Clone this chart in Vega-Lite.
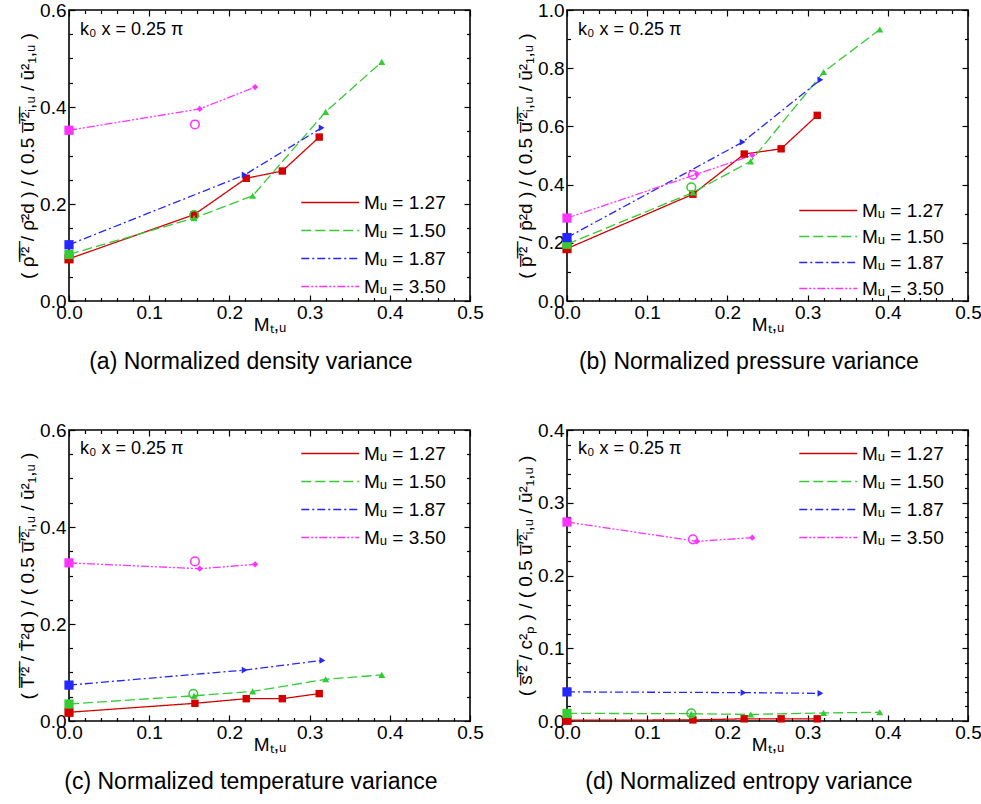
{
 "$schema": "https://vega.github.io/schema/vega-lite/v6.json",
 "background": "white",
 "padding": {"left": 17, "top": 0, "right": 2, "bottom": 2},
 "datasets": {
  "lines": [
   {"p":"a","M":"1.27","x":0,"y":0.087},{"p":"a","M":"1.27","x":0.156,"y":0.178},{"p":"a","M":"1.27","x":0.221,"y":0.253},{"p":"a","M":"1.27","x":0.266,"y":0.268},{"p":"a","M":"1.27","x":0.312,"y":0.338},
   {"p":"a","M":"1.50","x":0,"y":0.096},{"p":"a","M":"1.50","x":0.156,"y":0.171},{"p":"a","M":"1.50","x":0.229,"y":0.217},{"p":"a","M":"1.50","x":0.32,"y":0.39},{"p":"a","M":"1.50","x":0.39,"y":0.493},
   {"p":"a","M":"1.87","x":0,"y":0.116},{"p":"a","M":"1.87","x":0.219,"y":0.26},{"p":"a","M":"1.87","x":0.315,"y":0.357},
   {"p":"a","M":"3.50","x":0,"y":0.352},{"p":"a","M":"3.50","x":0.163,"y":0.396},{"p":"a","M":"3.50","x":0.232,"y":0.441},
   {"p":"b","M":"1.27","x":0,"y":0.18},{"p":"b","M":"1.27","x":0.157,"y":0.367},{"p":"b","M":"1.27","x":0.221,"y":0.505},{"p":"b","M":"1.27","x":0.267,"y":0.523},{"p":"b","M":"1.27","x":0.312,"y":0.638},
   {"p":"b","M":"1.50","x":0,"y":0.195},{"p":"b","M":"1.50","x":0.157,"y":0.373},{"p":"b","M":"1.50","x":0.229,"y":0.48},{"p":"b","M":"1.50","x":0.32,"y":0.787},{"p":"b","M":"1.50","x":0.39,"y":0.933},
   {"p":"b","M":"1.87","x":0,"y":0.218},{"p":"b","M":"1.87","x":0.219,"y":0.546},{"p":"b","M":"1.87","x":0.316,"y":0.76},
   {"p":"b","M":"3.50","x":0,"y":0.285},{"p":"b","M":"3.50","x":0.162,"y":0.436},{"p":"b","M":"3.50","x":0.231,"y":0.501},
   {"p":"c","M":"1.27","x":0,"y":0.018},{"p":"c","M":"1.27","x":0.157,"y":0.0365},{"p":"c","M":"1.27","x":0.221,"y":0.046},{"p":"c","M":"1.27","x":0.266,"y":0.046},{"p":"c","M":"1.27","x":0.312,"y":0.0565},
   {"p":"c","M":"1.50","x":0,"y":0.035},{"p":"c","M":"1.50","x":0.156,"y":0.052},{"p":"c","M":"1.50","x":0.229,"y":0.061},{"p":"c","M":"1.50","x":0.32,"y":0.086},{"p":"c","M":"1.50","x":0.39,"y":0.095},
   {"p":"c","M":"1.87","x":0,"y":0.074},{"p":"c","M":"1.87","x":0.219,"y":0.105},{"p":"c","M":"1.87","x":0.316,"y":0.125},
   {"p":"c","M":"3.50","x":0,"y":0.326},{"p":"c","M":"3.50","x":0.163,"y":0.314},{"p":"c","M":"3.50","x":0.232,"y":0.323},
   {"p":"d","M":"1.27","x":0,"y":0.001},{"p":"d","M":"1.27","x":0.157,"y":0.0015},{"p":"d","M":"1.27","x":0.221,"y":0.003},{"p":"d","M":"1.27","x":0.267,"y":0.003},{"p":"d","M":"1.27","x":0.312,"y":0.003},
   {"p":"d","M":"1.50","x":0,"y":0.0105},{"p":"d","M":"1.50","x":0.155,"y":0.01},{"p":"d","M":"1.50","x":0.229,"y":0.009},{"p":"d","M":"1.50","x":0.32,"y":0.011},{"p":"d","M":"1.50","x":0.39,"y":0.012},
   {"p":"d","M":"1.87","x":0,"y":0.04},{"p":"d","M":"1.87","x":0.22,"y":0.039},{"p":"d","M":"1.87","x":0.316,"y":0.038},
   {"p":"d","M":"3.50","x":0,"y":0.2735},{"p":"d","M":"3.50","x":0.162,"y":0.247},{"p":"d","M":"3.50","x":0.231,"y":0.252}
  ],
  "circles": [
   {"p":"a","M":"1.50","x":0.156,"y":0.177},{"p":"a","M":"3.50","x":0.157,"y":0.364},
   {"p":"b","M":"1.50","x":0.155,"y":0.391},{"p":"b","M":"3.50","x":0.157,"y":0.433},
   {"p":"c","M":"1.50","x":0.155,"y":0.056},{"p":"c","M":"3.50","x":0.157,"y":0.329},
   {"p":"d","M":"1.50","x":0.155,"y":0.0105},{"p":"d","M":"3.50","x":0.157,"y":0.2497}
  ],
  "note": [{"label": "k\u2080 x = 0.25 \u03c0"}]
 },
 "columns": 2,
 "spacing": {"column": 30, "row": 45},
 "resolve": {"legend": {"color": "independent", "strokeDash": "independent"}},
 "concat": [
  {
   "width": 401, "height": 291,
   "title": {"text": "(a) Normalized density variance"},
   "layer": [
    {
     "data": {"name": "lines"},
     "transform": [{"filter": "datum.p == 'a'"}],
     "mark": {"type": "line", "strokeWidth": 1.3},
     "encoding": {
      "x": {"field": "x", "type": "quantitative", "scale": {"domain": [0, 0.5], "nice": false}, "axis": {"orient": "bottom", "values": [0, 0.1, 0.2, 0.3, 0.4, 0.5], "ticks": false, "labelPadding": 2, "title": "M\u209c,\u1d64", "titlePadding": -7}},
      "y": {"field": "y", "type": "quantitative", "scale": {"domain": [0, 0.6], "nice": false}, "axis": {"orient": "left", "values": [0, 0.2, 0.4, 0.6], "ticks": false, "labelPadding": 3, "title": "( \u03c1\u0305\u2032\u0305\u00b2\u0305 / \u03c1\u0304\u00b2d ) / ( 0.5 u\u0305\u2032\u0305\u00b2\u0305\u1d62,\u1d64 / \u016b\u00b2\u2081,\u1d64 )", "titlePadding": 2}},
      "color": {"field": "M", "type": "nominal", "scale": {"domain": ["1.27", "1.50", "1.87", "3.50"], "range": ["#d40000", "#33cc33", "#2626ff", "#ff33ff"]}, "legend": {"orient": "none", "legendX": 230, "legendY": 183, "labelExpr": "'M\u1d64 = ' + datum.label"}},
      "strokeDash": {"field": "M", "type": "nominal", "scale": {"domain": ["1.27", "1.50", "1.87", "3.50"], "range": [[1, 0], [10, 4], [8, 3, 2, 3], [8, 2, 2, 2, 2, 2]]}, "legend": {"orient": "none", "legendX": 230, "legendY": 183, "labelExpr": "'M\u1d64 = ' + datum.label"}}
     }
    },
    {
     "data": {"name": "lines"},
     "transform": [{"filter": "datum.p == 'a' && datum.x > 0"}],
     "mark": {"type": "point", "filled": true, "opacity": 1},
     "encoding": {
      "x": {"field": "x", "type": "quantitative", "axis": {"orient": "bottom", "values": [0,0.02,0.04,0.06,0.08,0.1,0.12,0.14,0.16,0.18,0.2,0.22,0.24,0.26,0.28,0.3,0.32,0.34,0.36,0.38,0.4,0.42,0.44,0.46,0.48,0.5], "labels": false, "title": null, "tickSize": {"condition": {"test": "abs(datum.value*10 - round(datum.value*10)) < 1e-6", "value": -6}, "value": -3.5}}},
      "y": {"field": "y", "type": "quantitative", "axis": {"orient": "left", "values": [0,0.05,0.1,0.15,0.2,0.25,0.3,0.35,0.4,0.45,0.5,0.55,0.6], "labels": false, "title": null, "tickSize": {"condition": {"test": "abs(datum.value*5 - round(datum.value*5)) < 1e-6", "value": -6}, "value": -3.5}}},
      "color": {"field": "M", "type": "nominal", "legend": null},
      "shape": {"field": "M", "type": "nominal", "scale": {"domain": ["1.27", "1.50", "1.87", "3.50"], "range": ["square", "triangle-up", "triangle-right", "diamond"]}, "legend": null},
      "size": {"field": "M", "type": "nominal", "scale": {"domain": ["1.27", "1.50", "1.87", "3.50"], "range": [55, 40, 40, 50]}, "legend": null}
     }
    },
    {
     "data": {"name": "lines"},
     "transform": [{"filter": "datum.p == 'a' && datum.x == 0"}],
     "mark": {"type": "point", "filled": true, "opacity": 1, "shape": "square", "size": 85},
     "encoding": {
      "x": {"field": "x", "type": "quantitative", "axis": {"orient": "top", "values": [0,0.02,0.04,0.06,0.08,0.1,0.12,0.14,0.16,0.18,0.2,0.22,0.24,0.26,0.28,0.3,0.32,0.34,0.36,0.38,0.4,0.42,0.44,0.46,0.48,0.5], "labels": false, "title": null, "tickSize": {"condition": {"test": "abs(datum.value*10 - round(datum.value*10)) < 1e-6", "value": -6}, "value": -3.5}}},
      "y": {"field": "y", "type": "quantitative", "axis": {"orient": "right", "values": [0,0.05,0.1,0.15,0.2,0.25,0.3,0.35,0.4,0.45,0.5,0.55,0.6], "labels": false, "title": null, "tickSize": {"condition": {"test": "abs(datum.value*5 - round(datum.value*5)) < 1e-6", "value": -6}, "value": -3.5}}},
      "color": {"field": "M", "type": "nominal", "legend": null}
     }
    },
    {
     "data": {"name": "circles"},
     "transform": [{"filter": "datum.p == 'a'"}],
     "mark": {"type": "point", "filled": false, "shape": "circle", "size": 75, "strokeWidth": 1.5, "opacity": 1},
     "encoding": {
      "x": {"field": "x", "type": "quantitative", "axis": null},
      "y": {"field": "y", "type": "quantitative", "axis": null},
      "color": {"field": "M", "type": "nominal", "legend": null}
     }
    },
    {
     "data": {"name": "note"},
     "mark": {"type": "text", "align": "left", "baseline": "middle", "dx": 11, "dy": 20, "fontSize": 18, "font": "Liberation Sans"},
     "encoding": {
      "x": {"datum": 0, "type": "quantitative", "axis": null},
      "y": {"datum": 0.6, "type": "quantitative", "axis": null},
      "text": {"field": "label"}
     }
    }
   ],
   "resolve": {"axis": {"x": "independent", "y": "independent"}}
  },
  {
   "width": 401, "height": 291,
   "title": {"text": "(b) Normalized pressure variance"},
   "layer": [
    {
     "data": {"name": "lines"},
     "transform": [{"filter": "datum.p == 'b'"}],
     "mark": {"type": "line", "strokeWidth": 1.3},
     "encoding": {
      "x": {"field": "x", "type": "quantitative", "scale": {"domain": [0, 0.5], "nice": false}, "axis": {"orient": "bottom", "values": [0, 0.1, 0.2, 0.3, 0.4, 0.5], "ticks": false, "labelPadding": 2, "title": "M\u209c,\u1d64", "titlePadding": -7}},
      "y": {"field": "y", "type": "quantitative", "scale": {"domain": [0, 1], "nice": false}, "axis": {"orient": "left", "values": [0, 0.2, 0.4, 0.6, 0.8, 1], "ticks": false, "labelPadding": 3, "title": "( p\u0305\u2032\u0305\u00b2\u0305 / p\u0304\u00b2d ) / ( 0.5 u\u0305\u2032\u0305\u00b2\u0305\u1d62,\u1d64 / \u016b\u00b2\u2081,\u1d64 )", "titlePadding": 2}},
      "color": {"field": "M", "type": "nominal", "scale": {"domain": ["1.27", "1.50", "1.87", "3.50"], "range": ["#d40000", "#33cc33", "#2626ff", "#ff33ff"]}, "legend": {"orient": "none", "legendX": 230, "legendY": 191, "rowPadding": 6, "labelExpr": "'M\u1d64 = ' + datum.label"}},
      "strokeDash": {"field": "M", "type": "nominal", "scale": {"domain": ["1.27", "1.50", "1.87", "3.50"], "range": [[1, 0], [10, 4], [8, 3, 2, 3], [8, 2, 2, 2, 2, 2]]}, "legend": {"orient": "none", "legendX": 230, "legendY": 191, "rowPadding": 6, "labelExpr": "'M\u1d64 = ' + datum.label"}}
     }
    },
    {
     "data": {"name": "lines"},
     "transform": [{"filter": "datum.p == 'b' && datum.x > 0"}],
     "mark": {"type": "point", "filled": true, "opacity": 1},
     "encoding": {
      "x": {"field": "x", "type": "quantitative", "axis": {"orient": "bottom", "values": [0,0.02,0.04,0.06,0.08,0.1,0.12,0.14,0.16,0.18,0.2,0.22,0.24,0.26,0.28,0.3,0.32,0.34,0.36,0.38,0.4,0.42,0.44,0.46,0.48,0.5], "labels": false, "title": null, "tickSize": {"condition": {"test": "abs(datum.value*10 - round(datum.value*10)) < 1e-6", "value": -6}, "value": -3.5}}},
      "y": {"field": "y", "type": "quantitative", "axis": {"orient": "left", "values": [0,0.1,0.2,0.3,0.4,0.5,0.6,0.7,0.8,0.9,1], "labels": false, "title": null, "tickSize": {"condition": {"test": "abs(datum.value*5 - round(datum.value*5)) < 1e-6", "value": -6}, "value": -3.5}}},
      "color": {"field": "M", "type": "nominal", "legend": null},
      "shape": {"field": "M", "type": "nominal", "scale": {"domain": ["1.27", "1.50", "1.87", "3.50"], "range": ["square", "triangle-up", "triangle-right", "diamond"]}, "legend": null},
      "size": {"field": "M", "type": "nominal", "scale": {"domain": ["1.27", "1.50", "1.87", "3.50"], "range": [55, 40, 40, 50]}, "legend": null}
     }
    },
    {
     "data": {"name": "lines"},
     "transform": [{"filter": "datum.p == 'b' && datum.x == 0"}],
     "mark": {"type": "point", "filled": true, "opacity": 1, "shape": "square", "size": 85},
     "encoding": {
      "x": {"field": "x", "type": "quantitative", "axis": {"orient": "top", "values": [0,0.02,0.04,0.06,0.08,0.1,0.12,0.14,0.16,0.18,0.2,0.22,0.24,0.26,0.28,0.3,0.32,0.34,0.36,0.38,0.4,0.42,0.44,0.46,0.48,0.5], "labels": false, "title": null, "tickSize": {"condition": {"test": "abs(datum.value*10 - round(datum.value*10)) < 1e-6", "value": -6}, "value": -3.5}}},
      "y": {"field": "y", "type": "quantitative", "axis": {"orient": "right", "values": [0,0.1,0.2,0.3,0.4,0.5,0.6,0.7,0.8,0.9,1], "labels": false, "title": null, "tickSize": {"condition": {"test": "abs(datum.value*5 - round(datum.value*5)) < 1e-6", "value": -6}, "value": -3.5}}},
      "color": {"field": "M", "type": "nominal", "legend": null}
     }
    },
    {
     "data": {"name": "circles"},
     "transform": [{"filter": "datum.p == 'b'"}],
     "mark": {"type": "point", "filled": false, "shape": "circle", "size": 75, "strokeWidth": 1.5, "opacity": 1},
     "encoding": {
      "x": {"field": "x", "type": "quantitative", "axis": null},
      "y": {"field": "y", "type": "quantitative", "axis": null},
      "color": {"field": "M", "type": "nominal", "legend": null}
     }
    },
    {
     "data": {"name": "note"},
     "mark": {"type": "text", "align": "left", "baseline": "middle", "dx": 11, "dy": 20, "fontSize": 18, "font": "Liberation Sans"},
     "encoding": {
      "x": {"datum": 0, "type": "quantitative", "axis": null},
      "y": {"datum": 1, "type": "quantitative", "axis": null},
      "text": {"field": "label"}
     }
    }
   ],
   "resolve": {"axis": {"x": "independent", "y": "independent"}}
  },
  {
   "width": 401, "height": 291,
   "title": {"text": "(c) Normalized temperature variance"},
   "layer": [
    {
     "data": {"name": "lines"},
     "transform": [{"filter": "datum.p == 'c'"}],
     "mark": {"type": "line", "strokeWidth": 1.3},
     "encoding": {
      "x": {"field": "x", "type": "quantitative", "scale": {"domain": [0, 0.5], "nice": false}, "axis": {"orient": "bottom", "values": [0, 0.1, 0.2, 0.3, 0.4, 0.5], "ticks": false, "labelPadding": 2, "title": "M\u209c,\u1d64", "titlePadding": -7}},
      "y": {"field": "y", "type": "quantitative", "scale": {"domain": [0, 0.6], "nice": false}, "axis": {"orient": "left", "values": [0, 0.2, 0.4, 0.6], "ticks": false, "labelPadding": 3, "title": "( T\u0305\u2032\u0305\u00b2\u0305 / T\u0304\u00b2d ) / ( 0.5 u\u0305\u2032\u0305\u00b2\u0305\u1d62,\u1d64 / \u016b\u00b2\u2081,\u1d64 )", "titlePadding": 2}},
      "color": {"field": "M", "type": "nominal", "scale": {"domain": ["1.27", "1.50", "1.87", "3.50"], "range": ["#d40000", "#33cc33", "#2626ff", "#ff33ff"]}, "legend": {"orient": "none", "legendX": 230, "legendY": 14, "labelExpr": "'M\u1d64 = ' + datum.label"}},
      "strokeDash": {"field": "M", "type": "nominal", "scale": {"domain": ["1.27", "1.50", "1.87", "3.50"], "range": [[1, 0], [10, 4], [8, 3, 2, 3], [8, 2, 2, 2, 2, 2]]}, "legend": {"orient": "none", "legendX": 230, "legendY": 14, "labelExpr": "'M\u1d64 = ' + datum.label"}}
     }
    },
    {
     "data": {"name": "lines"},
     "transform": [{"filter": "datum.p == 'c' && datum.x > 0"}],
     "mark": {"type": "point", "filled": true, "opacity": 1},
     "encoding": {
      "x": {"field": "x", "type": "quantitative", "axis": {"orient": "bottom", "values": [0,0.02,0.04,0.06,0.08,0.1,0.12,0.14,0.16,0.18,0.2,0.22,0.24,0.26,0.28,0.3,0.32,0.34,0.36,0.38,0.4,0.42,0.44,0.46,0.48,0.5], "labels": false, "title": null, "tickSize": {"condition": {"test": "abs(datum.value*10 - round(datum.value*10)) < 1e-6", "value": -6}, "value": -3.5}}},
      "y": {"field": "y", "type": "quantitative", "axis": {"orient": "left", "values": [0,0.05,0.1,0.15,0.2,0.25,0.3,0.35,0.4,0.45,0.5,0.55,0.6], "labels": false, "title": null, "tickSize": {"condition": {"test": "abs(datum.value*5 - round(datum.value*5)) < 1e-6", "value": -6}, "value": -3.5}}},
      "color": {"field": "M", "type": "nominal", "legend": null},
      "shape": {"field": "M", "type": "nominal", "scale": {"domain": ["1.27", "1.50", "1.87", "3.50"], "range": ["square", "triangle-up", "triangle-right", "diamond"]}, "legend": null},
      "size": {"field": "M", "type": "nominal", "scale": {"domain": ["1.27", "1.50", "1.87", "3.50"], "range": [55, 40, 40, 50]}, "legend": null}
     }
    },
    {
     "data": {"name": "lines"},
     "transform": [{"filter": "datum.p == 'c' && datum.x == 0"}],
     "mark": {"type": "point", "filled": true, "opacity": 1, "shape": "square", "size": 85},
     "encoding": {
      "x": {"field": "x", "type": "quantitative", "axis": {"orient": "top", "values": [0,0.02,0.04,0.06,0.08,0.1,0.12,0.14,0.16,0.18,0.2,0.22,0.24,0.26,0.28,0.3,0.32,0.34,0.36,0.38,0.4,0.42,0.44,0.46,0.48,0.5], "labels": false, "title": null, "tickSize": {"condition": {"test": "abs(datum.value*10 - round(datum.value*10)) < 1e-6", "value": -6}, "value": -3.5}}},
      "y": {"field": "y", "type": "quantitative", "axis": {"orient": "right", "values": [0,0.05,0.1,0.15,0.2,0.25,0.3,0.35,0.4,0.45,0.5,0.55,0.6], "labels": false, "title": null, "tickSize": {"condition": {"test": "abs(datum.value*5 - round(datum.value*5)) < 1e-6", "value": -6}, "value": -3.5}}},
      "color": {"field": "M", "type": "nominal", "legend": null}
     }
    },
    {
     "data": {"name": "circles"},
     "transform": [{"filter": "datum.p == 'c'"}],
     "mark": {"type": "point", "filled": false, "shape": "circle", "size": 75, "strokeWidth": 1.5, "opacity": 1},
     "encoding": {
      "x": {"field": "x", "type": "quantitative", "axis": null},
      "y": {"field": "y", "type": "quantitative", "axis": null},
      "color": {"field": "M", "type": "nominal", "legend": null}
     }
    },
    {
     "data": {"name": "note"},
     "mark": {"type": "text", "align": "left", "baseline": "middle", "dx": 11, "dy": 19, "fontSize": 18, "font": "Liberation Sans"},
     "encoding": {
      "x": {"datum": 0, "type": "quantitative", "axis": null},
      "y": {"datum": 0.6, "type": "quantitative", "axis": null},
      "text": {"field": "label"}
     }
    }
   ],
   "resolve": {"axis": {"x": "independent", "y": "independent"}}
  },
  {
   "width": 401, "height": 291,
   "title": {"text": "(d) Normalized entropy variance"},
   "layer": [
    {
     "data": {"name": "lines"},
     "transform": [{"filter": "datum.p == 'd'"}],
     "mark": {"type": "line", "strokeWidth": 1.3},
     "encoding": {
      "x": {"field": "x", "type": "quantitative", "scale": {"domain": [0, 0.5], "nice": false}, "axis": {"orient": "bottom", "values": [0, 0.1, 0.2, 0.3, 0.4, 0.5], "ticks": false, "labelPadding": 2, "title": "M\u209c,\u1d64", "titlePadding": -7}},
      "y": {"field": "y", "type": "quantitative", "scale": {"domain": [0, 0.4], "nice": false}, "axis": {"orient": "left", "values": [0, 0.1, 0.2, 0.3, 0.4], "ticks": false, "labelPadding": 3, "title": "( s\u0305\u2032\u0305\u00b2\u0305 / c\u00b2\u209a ) / ( 0.5 u\u0305\u2032\u0305\u00b2\u0305\u1d62,\u1d64 / \u016b\u00b2\u2081,\u1d64 )", "titlePadding": 2}},
      "color": {"field": "M", "type": "nominal", "scale": {"domain": ["1.27", "1.50", "1.87", "3.50"], "range": ["#d40000", "#33cc33", "#2626ff", "#ff33ff"]}, "legend": {"orient": "none", "legendX": 230, "legendY": 14, "labelExpr": "'M\u1d64 = ' + datum.label"}},
      "strokeDash": {"field": "M", "type": "nominal", "scale": {"domain": ["1.27", "1.50", "1.87", "3.50"], "range": [[1, 0], [10, 4], [8, 3, 2, 3], [8, 2, 2, 2, 2, 2]]}, "legend": {"orient": "none", "legendX": 230, "legendY": 14, "labelExpr": "'M\u1d64 = ' + datum.label"}}
     }
    },
    {
     "data": {"name": "lines"},
     "transform": [{"filter": "datum.p == 'd' && datum.x > 0"}],
     "mark": {"type": "point", "filled": true, "opacity": 1},
     "encoding": {
      "x": {"field": "x", "type": "quantitative", "axis": {"orient": "bottom", "values": [0,0.02,0.04,0.06,0.08,0.1,0.12,0.14,0.16,0.18,0.2,0.22,0.24,0.26,0.28,0.3,0.32,0.34,0.36,0.38,0.4,0.42,0.44,0.46,0.48,0.5], "labels": false, "title": null, "tickSize": {"condition": {"test": "abs(datum.value*10 - round(datum.value*10)) < 1e-6", "value": -6}, "value": -3.5}}},
      "y": {"field": "y", "type": "quantitative", "axis": {"orient": "left", "values": [0,0.02,0.04,0.06,0.08,0.1,0.12,0.14,0.16,0.18,0.2,0.22,0.24,0.26,0.28,0.3,0.32,0.34,0.36,0.38,0.4], "labels": false, "title": null, "tickSize": {"condition": {"test": "abs(datum.value*10 - round(datum.value*10)) < 1e-6", "value": -6}, "value": -3.5}}},
      "color": {"field": "M", "type": "nominal", "legend": null},
      "shape": {"field": "M", "type": "nominal", "scale": {"domain": ["1.27", "1.50", "1.87", "3.50"], "range": ["square", "triangle-up", "triangle-right", "diamond"]}, "legend": null},
      "size": {"field": "M", "type": "nominal", "scale": {"domain": ["1.27", "1.50", "1.87", "3.50"], "range": [55, 40, 40, 50]}, "legend": null}
     }
    },
    {
     "data": {"name": "lines"},
     "transform": [{"filter": "datum.p == 'd' && datum.x == 0"}],
     "mark": {"type": "point", "filled": true, "opacity": 1, "shape": "square", "size": 85},
     "encoding": {
      "x": {"field": "x", "type": "quantitative", "axis": {"orient": "top", "values": [0,0.02,0.04,0.06,0.08,0.1,0.12,0.14,0.16,0.18,0.2,0.22,0.24,0.26,0.28,0.3,0.32,0.34,0.36,0.38,0.4,0.42,0.44,0.46,0.48,0.5], "labels": false, "title": null, "tickSize": {"condition": {"test": "abs(datum.value*10 - round(datum.value*10)) < 1e-6", "value": -6}, "value": -3.5}}},
      "y": {"field": "y", "type": "quantitative", "axis": {"orient": "right", "values": [0,0.02,0.04,0.06,0.08,0.1,0.12,0.14,0.16,0.18,0.2,0.22,0.24,0.26,0.28,0.3,0.32,0.34,0.36,0.38,0.4], "labels": false, "title": null, "tickSize": {"condition": {"test": "abs(datum.value*10 - round(datum.value*10)) < 1e-6", "value": -6}, "value": -3.5}}},
      "color": {"field": "M", "type": "nominal", "legend": null}
     }
    },
    {
     "data": {"name": "circles"},
     "transform": [{"filter": "datum.p == 'd'"}],
     "mark": {"type": "point", "filled": false, "shape": "circle", "size": 75, "strokeWidth": 1.5, "opacity": 1},
     "encoding": {
      "x": {"field": "x", "type": "quantitative", "axis": null},
      "y": {"field": "y", "type": "quantitative", "axis": null},
      "color": {"field": "M", "type": "nominal", "legend": null}
     }
    },
    {
     "data": {"name": "note"},
     "mark": {"type": "text", "align": "left", "baseline": "middle", "dx": 11, "dy": 19, "fontSize": 18, "font": "Liberation Sans"},
     "encoding": {
      "x": {"datum": 0, "type": "quantitative", "axis": null},
      "y": {"datum": 0.4, "type": "quantitative", "axis": null},
      "text": {"field": "label"}
     }
    }
   ],
   "resolve": {"axis": {"x": "independent", "y": "independent"}}
  }
 ],
 "config": {
  "font": "Liberation Sans",
  "view": {"stroke": "black", "strokeWidth": 1.6},
  "axis": {"domain": false, "grid": false, "labelFont": "Liberation Sans", "labelFontSize": 19, "labelColor": "black", "titleFont": "Liberation Sans", "titleFontSize": 19, "titleFontWeight": "normal", "titleColor": "black", "tickColor": "black", "tickWidth": 1.2, "labelFlush": false, "labelOverlap": false},
  "legend": {"title": null, "symbolType": "M-1,0H7", "symbolSize": 210, "symbolStrokeWidth": 1.5, "labelFont": "Liberation Sans", "labelFontSize": 19, "labelColor": "black", "rowPadding": 8, "labelOffset": 46, "padding": 0},
  "title": {"orient": "bottom", "font": "Liberation Sans", "fontSize": 23, "fontWeight": "normal", "color": "black", "offset": 17, "anchor": "middle", "frame": "bounds"}
 }
}
